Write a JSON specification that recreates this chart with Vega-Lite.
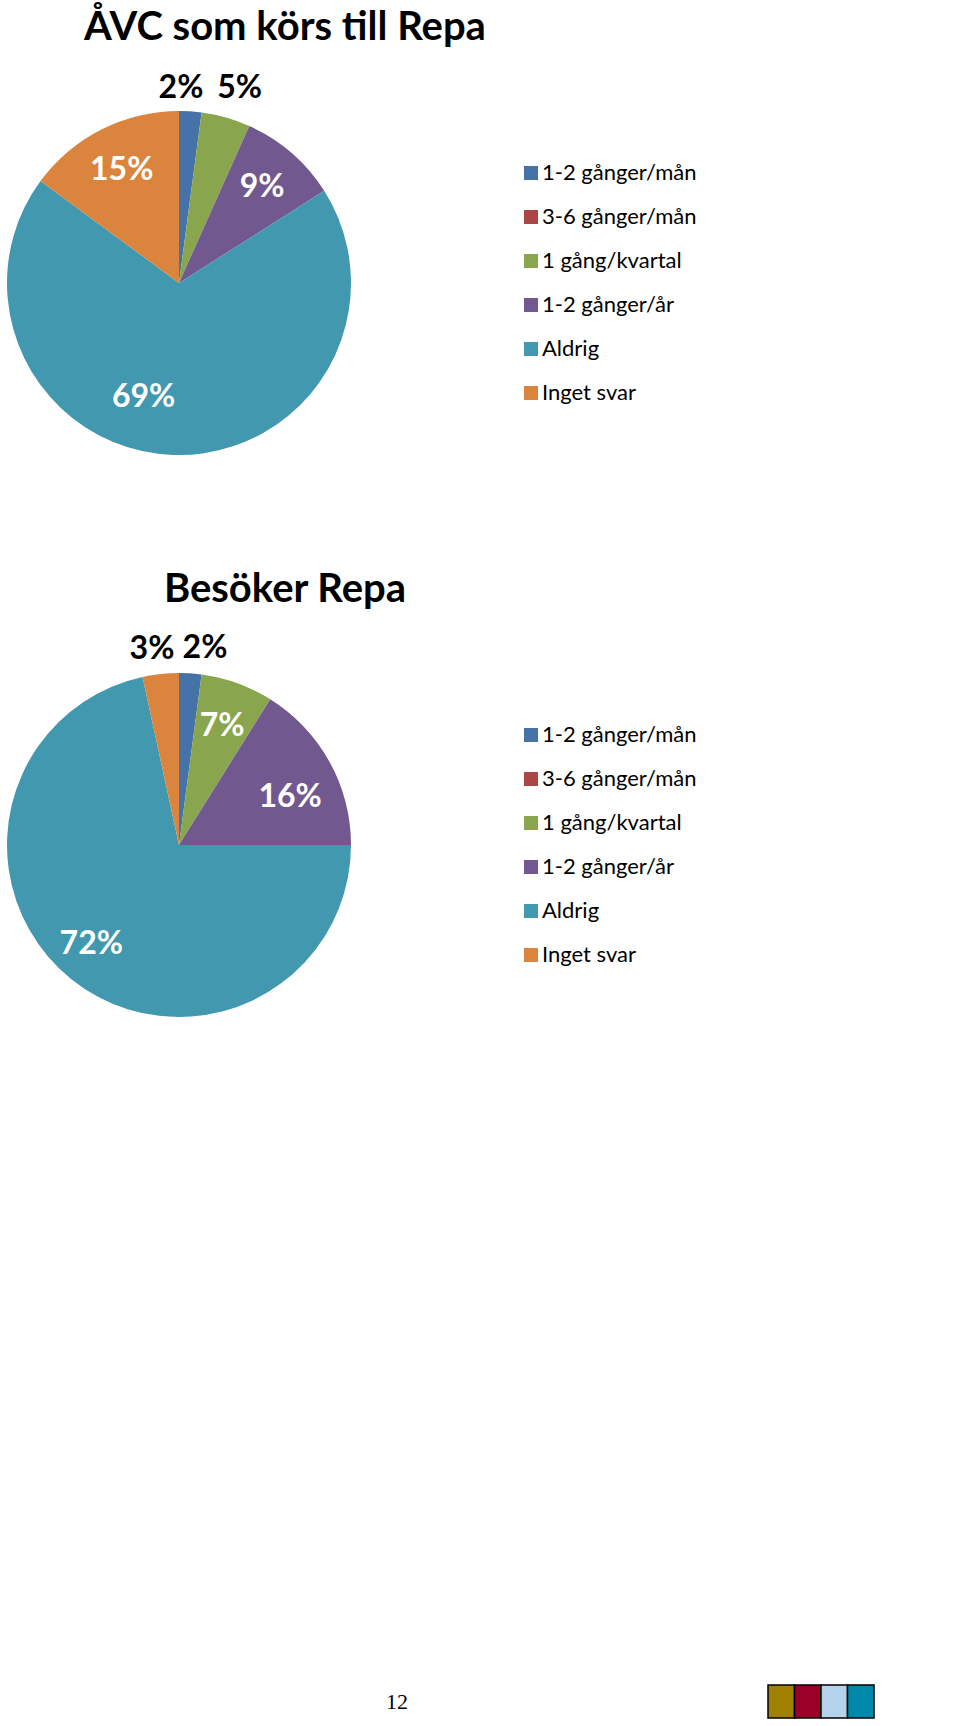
{
  "$schema": "https://vega.github.io/schema/vega-lite/v6.json",
  "background": "white",
  "padding": {"left": 7, "top": 8, "right": 0, "bottom": 0},
  "bounds": "flush",
  "spacing": 218,
  "datasets": {
    "avc": [
      {"nr": 1, "svar": "1-2 gånger/mån", "andel": 0.021},
      {"nr": 2, "svar": "3-6 gånger/mån", "andel": 0},
      {"nr": 3, "svar": "1 gång/kvartal", "andel": 0.046},
      {"nr": 4, "svar": "1-2 gånger/år", "andel": 0.093},
      {"nr": 5, "svar": "Aldrig", "andel": 0.691},
      {"nr": 6, "svar": "Inget svar", "andel": 0.149}
    ],
    "besok": [
      {"nr": 1, "svar": "1-2 gånger/mån", "andel": 0.021},
      {"nr": 2, "svar": "3-6 gånger/mån", "andel": 0},
      {"nr": 3, "svar": "1 gång/kvartal", "andel": 0.068},
      {"nr": 4, "svar": "1-2 gånger/år", "andel": 0.161},
      {"nr": 5, "svar": "Aldrig", "andel": 0.716},
      {"nr": 6, "svar": "Inget svar", "andel": 0.034}
    ],
    "rutor": [
      {"ruta": "guld"},
      {"ruta": "röd"},
      {"ruta": "ljusblå"},
      {"ruta": "blå"}
    ],
    "sida": [
      {"sida": "12"}
    ]
  },
  "vconcat": [
    {
      "width": 344,
      "height": 344,
      "title": {
        "text": "ÅVC som körs till Repa",
        "anchor": "middle",
        "frame": "group",
        "dx": 106,
        "offset": -16,
        "baseline": "alphabetic",
        "font": "Lato",
        "fontSize": 40,
        "fontWeight": "bold",
        "color": "#000"
      },
      "data": {"name": "avc"},
      "encoding": {
        "theta": {"field": "andel", "type": "quantitative", "stack": true},
        "order": {"field": "nr", "type": "quantitative"},
        "detail": {"field": "svar", "type": "nominal"}
      },
      "layer": [
        {
          "mark": {"type": "arc"},
          "encoding": {
            "color": {
              "field": "svar",
              "type": "nominal",
              "scale": {
                "domain": ["1-2 gånger/mån", "3-6 gånger/mån", "1 gång/kvartal", "1-2 gånger/år", "Aldrig", "Inget svar"],
                "range": ["#4572A7", "#AA4643", "#89A54E", "#71588F", "#4198AF", "#DB843D"]
              },
              "legend": {
                "orient": "none",
                "legendX": 513,
                "legendY": 51,
                "title": null,
                "padding": 0,
                "symbolType": "square",
                "symbolSize": 196,
                "symbolStrokeWidth": 0,
                "symbolOpacity": 1,
                "labelFont": "Lato",
                "labelFontSize": 22,
                "labelColor": "#000",
                "labelOffset": 0,
                "labelLimit": 300,
                "rowPadding": 22
              }
            }
          }
        },
        {
          "mark": {"type": "text", "radius": 127, "fill": "#fff", "font": "Lato", "fontSize": 32, "fontWeight": "bold"},
          "encoding": {
            "text": {"condition": {"test": "datum.andel >= 0.06 && datum.svar != 'Aldrig'", "field": "andel", "type": "quantitative", "format": ".0%"}, "value": ""}
          }
        },
        {
          "mark": {"type": "text", "radius": 127, "dx": -31, "dy": -13, "fill": "#fff", "font": "Lato", "fontSize": 32, "fontWeight": "bold"},
          "encoding": {
            "text": {"condition": {"test": "datum.svar == 'Aldrig'", "field": "andel", "type": "quantitative", "format": ".0%"}, "value": ""}
          }
        },
        {
          "mark": {"type": "text", "radius": 197, "dx": -11, "dy": 2, "fill": "#000", "font": "Lato", "fontSize": 32, "fontWeight": "bold"},
          "encoding": {
            "text": {"condition": {"test": "datum.svar == '1-2 gånger/mån'", "field": "andel", "type": "quantitative", "format": ".0%"}, "value": ""}
          }
        },
        {
          "mark": {"type": "text", "radius": 200, "dx": 6, "dy": -3, "fill": "#000", "font": "Lato", "fontSize": 32, "fontWeight": "bold"},
          "encoding": {
            "text": {"condition": {"test": "datum.svar == '1 gång/kvartal'", "field": "andel", "type": "quantitative", "format": ".0%"}, "value": ""}
          }
        }
      ]
    },
    {
      "width": 344,
      "height": 344,
      "title": {
        "text": "Besöker Repa",
        "anchor": "middle",
        "frame": "group",
        "dx": 106,
        "offset": -10,
        "baseline": "alphabetic",
        "font": "Lato",
        "fontSize": 40,
        "fontWeight": "bold",
        "color": "#000"
      },
      "data": {"name": "besok"},
      "encoding": {
        "theta": {"field": "andel", "type": "quantitative", "stack": true},
        "order": {"field": "nr", "type": "quantitative"},
        "detail": {"field": "svar", "type": "nominal"}
      },
      "layer": [
        {
          "mark": {"type": "arc"},
          "encoding": {
            "color": {
              "field": "svar",
              "type": "nominal",
              "scale": {
                "domain": ["1-2 gånger/mån", "3-6 gånger/mån", "1 gång/kvartal", "1-2 gånger/år", "Aldrig", "Inget svar"],
                "range": ["#4572A7", "#AA4643", "#89A54E", "#71588F", "#4198AF", "#DB843D"]
              },
              "legend": {
                "orient": "none",
                "legendX": 513,
                "legendY": 51,
                "title": null,
                "padding": 0,
                "symbolType": "square",
                "symbolSize": 196,
                "symbolStrokeWidth": 0,
                "symbolOpacity": 1,
                "labelFont": "Lato",
                "labelFontSize": 22,
                "labelColor": "#000",
                "labelOffset": 0,
                "labelLimit": 300,
                "rowPadding": 22
              }
            }
          }
        },
        {
          "mark": {"type": "text", "radius": 127, "fill": "#fff", "font": "Lato", "fontSize": 32, "fontWeight": "bold"},
          "encoding": {
            "text": {"condition": {"test": "datum.andel >= 0.06 && datum.svar != '1-2 gånger/år' && datum.svar != 'Aldrig'", "field": "andel", "type": "quantitative", "format": ".0%"}, "value": ""}
          }
        },
        {
          "mark": {"type": "text", "radius": 127, "dy": 14, "fill": "#fff", "font": "Lato", "fontSize": 32, "fontWeight": "bold"},
          "encoding": {
            "text": {"condition": {"test": "datum.svar == '1-2 gånger/år'", "field": "andel", "type": "quantitative", "format": ".0%"}, "value": ""}
          }
        },
        {
          "mark": {"type": "text", "radius": 127, "dx": -8, "fill": "#fff", "font": "Lato", "fontSize": 32, "fontWeight": "bold"},
          "encoding": {
            "text": {"condition": {"test": "datum.svar == 'Aldrig'", "field": "andel", "type": "quantitative", "format": ".0%"}, "value": ""}
          }
        },
        {
          "mark": {"type": "text", "radius": 197, "dx": 13, "fill": "#000", "font": "Lato", "fontSize": 32, "fontWeight": "bold"},
          "encoding": {
            "text": {"condition": {"test": "datum.svar == '1-2 gånger/mån'", "field": "andel", "type": "quantitative", "format": ".0%"}, "value": ""}
          }
        },
        {
          "mark": {"type": "text", "radius": 197, "dx": -6, "fill": "#000", "font": "Lato", "fontSize": 32, "fontWeight": "bold"},
          "encoding": {
            "text": {"condition": {"test": "datum.svar == 'Inget svar'", "field": "andel", "type": "quantitative", "format": ".0%"}, "value": ""}
          }
        }
      ]
    },
    {
      "width": 867,
      "height": 483,
      "layer": [
        {
          "data": {"name": "rutor"},
          "mark": {"type": "rect", "stroke": "#000", "strokeWidth": 1.5},
          "encoding": {
            "x": {
              "field": "ruta",
              "type": "nominal",
              "sort": null,
              "axis": null,
              "scale": {"range": [761, 867], "paddingInner": 0, "paddingOuter": 0}
            },
            "y": {
              "datum": "sidfot",
              "type": "nominal",
              "axis": null,
              "scale": {"range": [450, 483], "paddingInner": 0, "paddingOuter": 0}
            },
            "color": {
              "field": "ruta",
              "type": "nominal",
              "sort": null,
              "legend": null,
              "scale": {"range": ["#A08000", "#9B0029", "#B4D2EA", "#0088AA"]}
            }
          }
        },
        {
          "data": {"name": "sida"},
          "mark": {"type": "text", "font": "Liberation Serif", "fontSize": 22, "color": "#000"},
          "encoding": {
            "x": {
              "field": "sida",
              "type": "nominal",
              "axis": null,
              "scale": {"range": [380, 400], "paddingInner": 0, "paddingOuter": 0}
            },
            "y": {"datum": "sidfot", "type": "nominal", "axis": null},
            "text": {"field": "sida", "type": "nominal"}
          }
        }
      ],
      "resolve": {"scale": {"x": "independent"}}
    }
  ],
  "resolve": {"scale": {"color": "independent", "theta": "independent"}, "legend": {"color": "independent"}},
  "config": {
    "view": {"stroke": null}
  }
}
